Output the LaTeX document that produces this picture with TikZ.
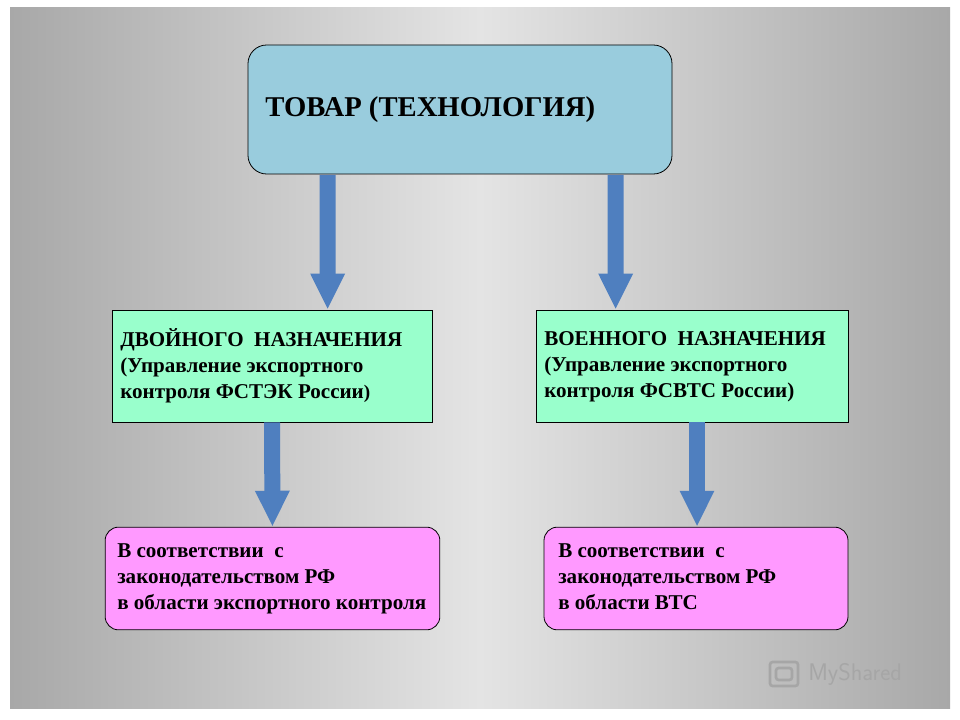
\documentclass[tikz,border=0pt]{standalone}
\usepackage{fontspec}
\setmainfont{Liberation Serif}
\usetikzlibrary{calc,arrows.meta}
\definecolor{topc}{HTML}{99CCDD}
\definecolor{midc}{HTML}{99FFCC}
\definecolor{botc}{HTML}{FF99FF}
\definecolor{arr}{HTML}{4F7FBF}
\definecolor{bgside}{HTML}{A8A8A8}
\definecolor{bgmid}{HTML}{E4E4E4}
\tikzset{
 box/.style={draw=black,line width=0.6pt,inner sep=0pt},
 txt/.style={anchor=north west,align=left,inner sep=0pt,font=\bfseries\fontsize{15.8}{19.5}\selectfont},
 fat/.style={draw=arr,line width=12pt,-{Triangle[length=27pt,width=24pt]}}
}
\begin{document}
\begin{tikzpicture}[x=0.75pt,y=-0.75pt]
\useasboundingbox (0,0) rectangle (960,720);
\fill[white] (0,0) rectangle (960,720);
\shade[left color=bgside,right color=bgside,middle color=bgmid] (10,8) rectangle (950,708);
\path[box,fill=topc,rounded corners=14pt] (248,45) rectangle (672,174);
\node[minimum width=318pt,minimum height=97pt,inner sep=0pt] (top) at (460,110) {};
\node[anchor=west,inner sep=0pt,font=\bfseries\fontsize{21.5}{24}\selectfont] (toptxt) at (265,110) {ТОВАР (ТЕХНОЛОГИЯ)};
\node[box,fill=midc,minimum width=240pt,minimum height=84pt] (m1) at (272,366) {};
\node[box,fill=midc,minimum width=234pt,minimum height=84pt] (m2) at (692,366) {};
\node[box,fill=botc,rounded corners=10pt,minimum width=251pt,minimum height=77pt] (b1) at (272.5,578.5) {};
\node[box,fill=botc,rounded corners=10pt,minimum width=228pt,minimum height=77pt] (b2) at (696,578.5) {};
\node[txt] (t1) at (120,328) {ДВОЙНОГО \ НАЗНАЧЕНИЯ\\(Управление экспортного\\контроля ФСТЭК России{\Large)}};
\node[txt] (t2) at (544,331) {ВОЕННОГО \ НАЗНАЧЕНИЯ\\(Управление экспортного\\контроля ФСВТС России)};
\node[txt] (t3) at (117,543) {В соответствии \ с\\законодательством РФ\\в области экспортного контроля};
\node[txt] (t4) at (558,543) {В соответствии \ с\\законодательством РФ\\в области ВТС};
\draw[fat] ($(top.south west)+(80,0)$) -- ($(m1.north west)+(216,0)$);
\draw[fat] ($(top.south west)+(368,0)$) -- ($(m2.north west)+(80,0)$);
\draw[fat] (m1.south) -- (b1.north);
\draw[fat] ($(m2.south)+(5,0)$) -- ($(b2.north)+(1,0)$);
\node[anchor=west,inner sep=0pt,text=gray!70,font=\sffamily\fontsize{18}{20}\selectfont] (wm) at (808,674) {MyShared};
\draw[gray!70,line width=2pt,rounded corners=2pt] (770,662) rectangle (798,686) (776,668) rectangle (792,680);
\end{tikzpicture}
\end{document}
